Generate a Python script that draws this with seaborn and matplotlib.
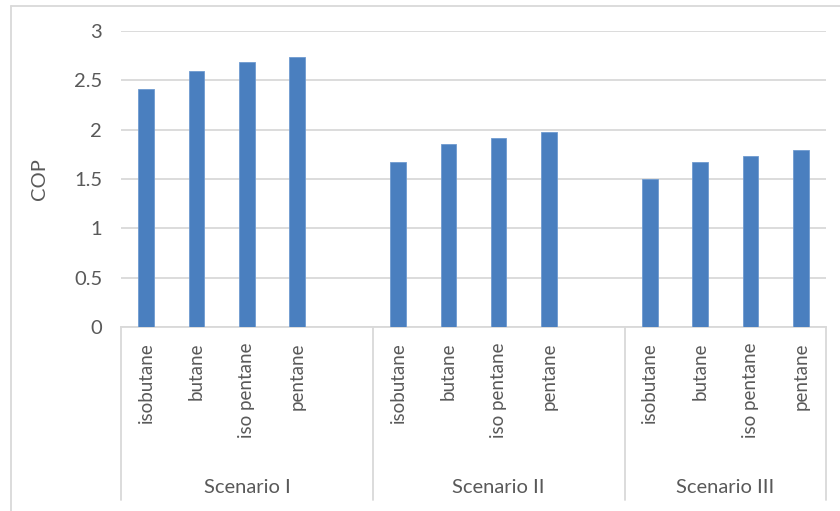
import matplotlib
matplotlib.use("Agg")
import matplotlib.pyplot as plt
import matplotlib.transforms as mtransforms
import seaborn as sns
import pandas as pd

scenarios = ["Scenario I", "Scenario II", "Scenario III"]
fluids = ["isobutane", "butane", "iso pentane", "pentane"]
cop_s1 = [2.415, 2.595, 2.685, 2.735]
cop_s2 = [1.675, 1.852, 1.92, 1.98]
cop_s3 = [1.505, 1.677, 1.738, 1.798]
y_ticks = [0, 0.5, 1, 1.5, 2, 2.5, 3]
y_ticklabels = ["0", "0.5", "1", "1.5", "2", "2.5", "3"]

sns.set_theme(style="white")
plt.rcParams["font.family"] = ["Lato", "DejaVu Sans"]

TXT = "#595959"
GRID = "#d9d9d9"
BAR = "#4a7fbf"
FS = 14.5
FS_ROT = 13.5

rows = []
for s, vals in zip(scenarios, [cop_s1, cop_s2, cop_s3]):
    for f, v in zip(fluids, vals):
        rows.append({"key": f"{s}|{f}", "COP": v})
df = pd.DataFrame(rows)

# slot order: each scenario's fluids, with an empty slot after I and II
order = []
for i, s in enumerate(scenarios):
    order += [f"{s}|{f}" for f in fluids]
    if i < len(scenarios) - 1:
        order.append(f"gap{i}")

W, H = 840, 511
fig = plt.figure(figsize=(W / 100, H / 100), dpi=100)
ax = fig.add_axes([121 / W, (H - 327) / H, (826 - 121) / W, (327 - 31) / H])

sns.barplot(data=df, x="key", y="COP", order=order, color=BAR, width=0.31,
            saturation=1, ax=ax, zorder=3, edgecolor="#6f9bd0", linewidth=0.6)

ax.set_xlim(-0.5, len(order) - 0.5)
ax.set_ylim(0, 3)
ax.set_yticks(y_ticks)
ax.set_yticklabels(y_ticklabels, color=TXT, fontsize=FS)
ax.tick_params(axis="y", length=0, pad=13.5)
ax.set_xticks([])
ax.set_xlabel("")
ax.set_ylabel("COP", color=TXT, fontsize=FS)
ax.yaxis.set_label_coords((48 - 121) / (826 - 121), 0.5)
ax.yaxis.grid(True, color=GRID, linewidth=1.3, zorder=0)
for sp in ["top", "right", "left"]:
    ax.spines[sp].set_visible(False)
ax.spines["bottom"].set_color(GRID)
ax.spines["bottom"].set_linewidth(1.3)

# category labels (two-level axis)
tr = mtransforms.blended_transform_factory(ax.transData, fig.transFigure)
pos = 0
bounds = [-0.5]
for i, s in enumerate(scenarios):
    start = pos
    for f in fluids:
        ax.text(pos, (H - 342) / H, f, transform=tr, rotation=90, ha="center",
                va="top", color=TXT, fontsize=FS_ROT)
        pos += 1
    end = pos - 1
    if i < len(scenarios) - 1:
        pos += 1
        bounds.append(pos - 0.5)
        center = (start + end + 1) / 2
    else:
        center = (start + end) / 2
    ax.text(center, (H - 487) / H, s, transform=tr, ha="center", va="center",
            color=TXT, fontsize=FS)
bounds.append(len(order) - 0.5)
for b in bounds:
    ax.plot([b, b], [(H - 327) / H, (H - 500) / H], transform=tr, color=GRID,
            linewidth=1.3, clip_on=False)

# chart area border (left and top visible)
fig.add_artist(plt.Line2D([11 / W, 11 / W], [0, (H - 6) / H], color=GRID, linewidth=1.3,
                          transform=fig.transFigure))
fig.add_artist(plt.Line2D([11 / W, 1], [(H - 6) / H, (H - 6) / H], color=GRID, linewidth=1.3,
                          transform=fig.transFigure))

fig.savefig("out.png", dpi=100, facecolor="white")
